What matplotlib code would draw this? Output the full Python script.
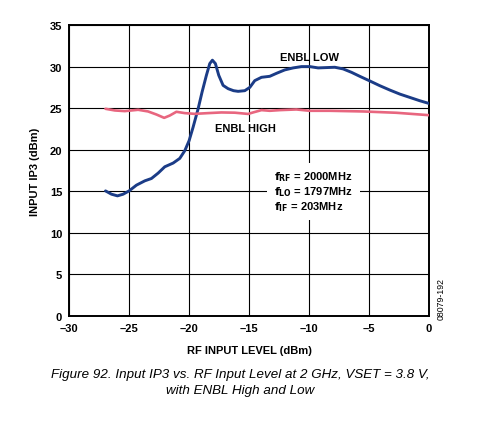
import matplotlib
matplotlib.use("Agg")
import matplotlib.pyplot as plt

# ENBL LOW curve (dark blue)
low_x = [-26.97, -26.47, -25.97, -25.5, -25.0, -24.39, -23.69, -23.14, -22.58, -22.03,
         -21.33, -20.78, -20.36, -20.0, -19.67, -19.25, -18.92, -18.56, -18.28, -18.06,
         -17.81, -17.53, -17.17, -16.75, -16.3, -15.92, -15.36, -14.94, -14.53, -13.97,
         -13.28, -12.72, -12.03, -11.33, -10.64, -9.94, -9.25, -8.56, -7.86, -7.17,
         -6.47, -5.78, -5.0, -4.11, -3.28, -2.44, -1.61, -0.78, 0.0]
low_y = [15.04, 14.64, 14.44, 14.64, 15.04, 15.73, 16.25, 16.53, 17.18, 17.94,
         18.39, 18.95, 19.88, 21.09, 22.7, 24.92, 26.94, 28.95, 30.36, 30.77,
         30.36, 28.95, 27.74, 27.34, 27.1, 27.02, 27.1, 27.5, 28.31, 28.71,
         28.83, 29.19, 29.6, 29.84, 30.0, 30.0, 29.84, 29.88, 29.92, 29.72,
         29.31, 28.83, 28.31, 27.7, 27.18, 26.69, 26.29, 25.89, 25.56]

# ENBL HIGH curve (pink)
high_x = [-26.97, -26.19, -25.36, -24.25, -23.42, -22.72, -22.08, -21.61, -21.06, -20.36,
          -19.53, -18.42, -17.31, -16.19, -15.08, -14.67, -13.97, -13.28, -12.44, -11.06,
          -9.94, -8.28, -5.5, -2.72, 0.0]
high_y = [24.92, 24.72, 24.64, 24.8, 24.6, 24.23, 23.83, 24.11, 24.56, 24.4,
          24.31, 24.4, 24.48, 24.45, 24.3, 24.48, 24.76, 24.68, 24.76, 24.84,
          24.68, 24.68, 24.6, 24.44, 24.15]

x_ticks = [-30, -25, -20, -15, -10, -5, 0]
y_ticks = [0, 5, 10, 15, 20, 25, 30, 35]

plt.rcParams['font.family'] = ['Liberation Sans', 'DejaVu Sans']

fig = plt.figure(figsize=(4.8, 4.27), dpi=100)
ax = fig.add_axes([0.144, 0.258, 0.75, 0.681])

ax.plot(low_x, low_y, color='#1b3c87', lw=2.1, solid_capstyle='round',
        solid_joinstyle='round', zorder=3)
ax.plot(high_x, high_y, color='#e8667f', lw=1.9, solid_capstyle='round',
        solid_joinstyle='round', zorder=3)

ax.set_xlim(-30, 0)
ax.set_ylim(0, 35)
ax.set_xticks(x_ticks)
ax.set_yticks(y_ticks)
ax.set_xticklabels([str(t).replace('-', '\u2013') for t in x_ticks], fontweight='bold', fontsize=8)
ax.set_yticklabels([str(t) for t in y_ticks], fontweight='bold', fontsize=8)
ax.tick_params(length=0)
ax.tick_params(axis='y', pad=5)
ax.tick_params(axis='x', pad=5)
ax.grid(True, color='black', lw=0.8)
ax.set_axisbelow(True)
for s in ax.spines.values():
    s.set_linewidth(1.4)

ax.set_xlabel('RF INPUT LEVEL (dBm)', fontweight='bold', fontsize=8, labelpad=9)
ax.set_ylabel('INPUT IP3 (dBm)', fontweight='bold', fontsize=8, labelpad=7)

ax.text(-10, 31.2, 'ENBL LOW', ha='center', va='center', fontweight='bold', fontsize=8, zorder=4)
ax.text(-15.3, 22.6, 'ENBL HIGH', ha='center', va='center', fontweight='bold', fontsize=8,
        zorder=4, bbox=dict(facecolor='white', edgecolor='none', pad=0.5))

ax.text(-12.9, 15.0, '$\\mathbf{f_{RF}}$ = 2000MHz\n$\\mathbf{f_{LO}}$ = 1797MHz\n$\\mathbf{f_{IF}}$ = 203MHz',
        ha='left', va='center', fontweight='bold', fontsize=8, linespacing=1.1, zorder=4,
        bbox=dict(facecolor='white', edgecolor='none', pad=5))

fig.text(0.918, 0.30, '08079-192', rotation=90, fontsize=6.3, ha='center', va='center')

fig.text(0.5, 0.104, 'Figure 92. Input IP3 vs. RF Input Level at 2 GHz, VSET = 3.8 V,\nwith ENBL High and Low',
         ha='center', va='center', style='italic', fontsize=9.6, linespacing=1.45)

fig.savefig('out.png', dpi=100)
